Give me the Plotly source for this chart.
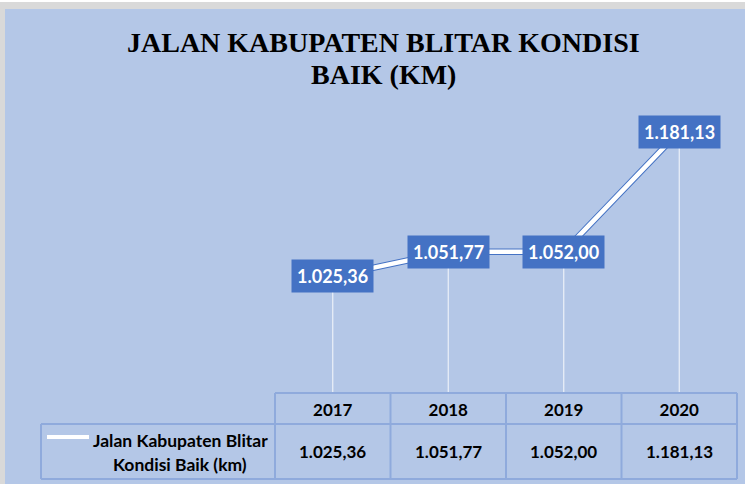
import plotly.graph_objects as go

# ---- data ----
years = ["2017", "2018", "2019", "2020"]
values = [1025.36, 1051.77, 1052.00, 1181.13]
series_name = "Jalan Kabupaten Blitar Kondisi Baik (km)"
legend_lines = ["Jalan Kabupaten Blitar", "Kondisi Baik (km)"]
title_lines = ["JALAN KABUPATEN BLITAR KONDISI", "BAIK (KM)"]
y_min, y_max = 900, 1200


def fmt_id(v):
    s = f"{v:,.2f}"
    return s.replace(",", "X").replace(".", ",").replace("X", ".")


BG = "#B4C7E7"
BLUE = "#4472C4"
BORDER = "#8FAADC"
FONT = "Lato"

W, H = 745, 484
L, R, T, B = 275, 8, 114, 91
pw, ph = W - L - R, H - T - B


def px_x(p):
    return (p - L) / pw


def px_y(p):
    return (H - B - p) / ph


fig = go.Figure()

# drop lines from each point to the axis bottom
fig.add_trace(go.Scatter(
    x=years, y=values, mode="markers",
    marker=dict(size=1, color="rgba(0,0,0,0)"),
    error_y=dict(type="data", symmetric=False,
                 array=[0] * len(values),
                 arrayminus=[v - y_min for v in values],
                 color="rgba(255,255,255,0.75)", thickness=1.2, width=0),
    showlegend=False, hoverinfo="skip"))

# blue rim under the line
fig.add_trace(go.Scatter(
    x=years, y=values, mode="lines",
    line=dict(color=BLUE, width=6.5),
    showlegend=False, hoverinfo="skip"))

# main white line
fig.add_trace(go.Scatter(
    x=years, y=values, mode="lines", name=series_name,
    line=dict(color="white", width=4.5),
    showlegend=False))

annotations = []
# data labels
for i, v in enumerate(values):
    annotations.append(dict(
        x=i, y=v, xref="x", yref="y", text=f"<b>{fmt_id(v)}</b>",
        showarrow=False, bgcolor=BLUE, borderpad=5,
        font=dict(family=FONT, size=18, color="white"),
        xanchor="center", yanchor="middle"))

# table value row
for i, v in enumerate(values):
    annotations.append(dict(
        x=i, y=px_y(451), xref="x", yref="paper", text=f"<b>{fmt_id(v)}</b>",
        showarrow=False, font=dict(family=FONT, size=17, color="black"),
        xanchor="center", yanchor="middle"))

# legend text
for i, t in enumerate(legend_lines):
    annotations.append(dict(
        x=px_x(180), y=px_y(440 + 24 * i), xref="paper", yref="paper",
        text=f"<b>{t}</b>", showarrow=False,
        font=dict(family=FONT, size=17.5, color="black"),
        xanchor="center", yanchor="middle"))

# title
for i, t in enumerate(title_lines):
    annotations.append(dict(
        x=px_x(383), y=px_y(43 + 31 * i), xref="paper", yref="paper",
        text=f"<b>{t}</b>", showarrow=False,
        font=dict(family="Liberation Serif", size=28, color="black"),
        xanchor="center", yanchor="middle"))

shapes = []
# frame
shapes.append(dict(type="rect", xref="paper", yref="paper",
                   x0=px_x(0), x1=px_x(W), y0=px_y(2), y1=px_y(0),
                   fillcolor="white", line=dict(width=0), layer="above"))
shapes.append(dict(type="rect", xref="paper", yref="paper",
                   x0=px_x(0), x1=px_x(W), y0=px_y(9), y1=px_y(2),
                   fillcolor="#D9D9D9", line=dict(width=0), layer="above"))
shapes.append(dict(type="rect", xref="paper", yref="paper",
                   x0=px_x(0), x1=px_x(5), y0=px_y(H), y1=px_y(2),
                   fillcolor="#D9D9D9", line=dict(width=0), layer="above"))

# table lines
lw = 2
y_top, y_mid, y_bot = px_y(393), px_y(424), px_y(479)
x_leg = px_x(41)
shapes.append(dict(type="line", xref="paper", yref="paper",
                   x0=0, x1=1, y0=y_top, y1=y_top, line=dict(color=BORDER, width=lw)))
shapes.append(dict(type="line", xref="paper", yref="paper",
                   x0=x_leg, x1=1, y0=y_mid, y1=y_mid, line=dict(color=BORDER, width=lw)))
shapes.append(dict(type="line", xref="paper", yref="paper",
                   x0=x_leg, x1=1, y0=y_bot, y1=y_bot, line=dict(color=BORDER, width=lw)))
shapes.append(dict(type="line", xref="paper", yref="paper",
                   x0=x_leg, x1=x_leg, y0=y_mid, y1=y_bot, line=dict(color=BORDER, width=lw)))
for k in range(len(years) + 1):
    xb = k / len(years)
    shapes.append(dict(type="line", xref="paper", yref="paper",
                       x0=xb, x1=xb, y0=y_top, y1=y_bot, line=dict(color=BORDER, width=lw)))
# legend key
shapes.append(dict(type="line", xref="paper", yref="paper",
                   x0=px_x(47), x1=px_x(89), y0=px_y(437), y1=px_y(437),
                   line=dict(color="white", width=4)))

fig.update_layout(
    width=W, height=H,
    margin=dict(l=L, r=R, t=T, b=B),
    paper_bgcolor=BG, plot_bgcolor=BG,
    showlegend=False,
    xaxis=dict(type="category", range=[-0.5, len(years) - 0.5],
               showgrid=False, zeroline=False, showline=False, ticks="",
               tickfont=dict(family=FONT, size=17, color="black"),
               ticklabelstandoff=5,
               tickvals=years, ticktext=[f"<b>{y}</b>" for y in years]),
    yaxis=dict(range=[y_min, y_max], visible=False, showgrid=False, zeroline=False),
    annotations=annotations,
    shapes=shapes,
)

fig.write_html("out.html", config={"displayModeBar": False},
               post_script="document.body.style.margin='0';document.body.style.overflow='hidden';")
